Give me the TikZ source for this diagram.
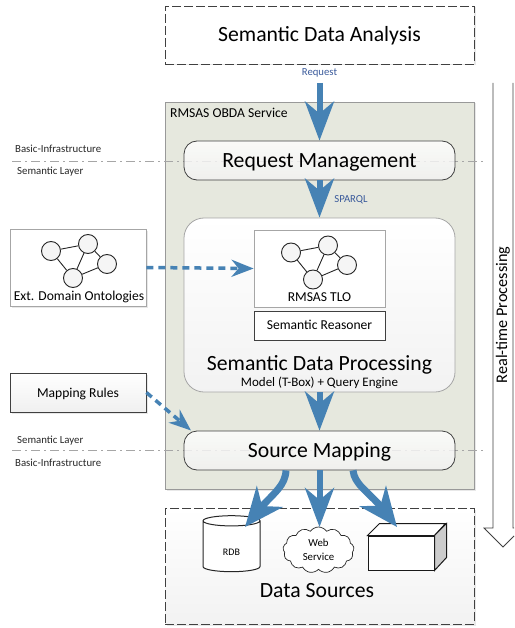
\documentclass[tikz,border=0pt]{standalone}
\usepackage{fontspec}
\setmainfont{Carlito}
\usetikzlibrary{arrows.meta,bending,shapes.symbols,shapes.geometric,shadows}
\definecolor{flowblue}{HTML}{4682B4}
\definecolor{labelblue}{HTML}{3A5A9B}
\definecolor{panelgreen}{HTML}{E6E8DE}
\tikzset{
  softshadow/.style={drop shadow={shadow xshift=1.5pt,shadow yshift=-1.5pt,opacity=.18}},
  dashbox/.style={draw=black!75,dash pattern=on 9pt off 3pt,line width=.8pt,fill=white,softshadow},
  softbox/.style={draw=black!75,line width=.8pt,rounded corners=13pt,top color=white,bottom color=black!5,fill opacity=.8,text opacity=1,minimum width=271pt,minimum height=39pt,text height=17pt,text depth=3pt,font=\fontsize{21.7}{23}\selectfont},
  plainbox/.style={draw=black!35,line width=.8pt,fill=white},
  sidebox/.style={draw=black!75,line width=.8pt,top color=white,bottom color=black!6,text height=12.6pt,text depth=3pt,font=\fontsize{13.6}{15}\selectfont,softshadow},
  ball/.style={circle,draw=black!85,fill=black!4,line width=.9pt,minimum size=19pt,inner sep=0pt},
  layerline/.style={black!35,line width=.6pt,dash pattern=on 9pt off 4pt on 2pt off 4pt},
  layertext/.style={anchor=base west,inner sep=0pt,font=\fontsize{10.8}{12}\selectfont,text=black!85},
  bluetext/.style={anchor=base,inner sep=0pt,text=labelblue,font=\fontsize{10.7}{12}\selectfont},
  plaintext/.style={anchor=base,inner sep=0pt,font=\fontsize{13.6}{15}\selectfont},
  flow/.style={draw=flowblue,line width=6pt,-{Stealth[length=39pt,width=29pt,inset=12pt,fill=flowblue]}},
  bentflow/.style={draw=flowblue,line width=7pt,-{Stealth[length=39pt,width=33pt,inset=12pt,fill=flowblue]}},
  dashflow/.style={draw=flowblue,line width=3.5pt,dash pattern=on 7pt off 5pt,-{Stealth[length=22pt,width=17pt,inset=7pt,fill=flowblue,sep=0pt]}},
}
\begin{document}
\begin{tikzpicture}[x=1pt,y=-1pt]
  \useasboundingbox (0,0) rectangle (514,628);
  % outer boxes
  \draw (319.5,35) node[dashbox,minimum width=309pt,minimum height=58pt,text height=17pt,text depth=3pt,font=\fontsize{21.7}{23}\selectfont] (sda) {Semantic Data Analysis};
  \draw (319.5,295.5) node[draw=black!40,line width=.8pt,fill=panelgreen,softshadow,minimum width=309pt,minimum height=387pt] (obda) {};
  \draw (319.5,566) node[dashbox,top color=white,bottom color=black!5,minimum width=309pt,minimum height=116pt] (src) {};
  \draw (170,117.5) node[anchor=base west,inner sep=0pt,font=\fontsize{13.6}{15}\selectfont] (obdatext) {RMSAS OBDA Service};
  % layer lines
  \coordinate (l1) at (12,161);
  \coordinate (l2) at (484,161);
  \coordinate (l3) at (12,450);
  \coordinate (l4) at (484,450);
  \draw[layerline] (l1) -- (l2);
  \draw[layerline] (l3) -- (l4);
  \draw (15,153) node[layertext] (basica) {Basic-Infrastructure};
  \draw (17,175) node[layertext] (semana) {Semantic Layer};
  \draw (17,443) node[layertext] (semanb) {Semantic Layer};
  \draw (15,466) node[layertext] (basicb) {Basic-Infrastructure};
  % service boxes
  \draw (319.5,160.5) node[softbox] (rm) {Request Management};
  \draw (319.5,305) node[softbox,draw=black!35,fill opacity=1,rounded corners=20pt,minimum height=174pt] (sdp) {};
  \draw (319.5,450.5) node[softbox] (sm) {Source Mapping};
  \draw (319.5,268.5) node[plainbox,minimum width=131pt,minimum height=77pt] (tlo) {};
  \draw (319.5,301) node[plaintext] (tlotext) {RMSAS TLO};
  \draw (319.5,325.5) node[draw=black!75,line width=.8pt,fill=white,minimum width=131pt,minimum height=29pt,text height=11pt,text depth=3pt,font=\fontsize{13.6}{15}\selectfont] (reasoner) {Semantic Reasoner};
  \draw (319.5,370) node[anchor=base,inner sep=0pt,font=\fontsize{21.7}{23}\selectfont] (sdptext) {Semantic Data Processing};
  \draw (319.5,386) node[anchor=base,inner sep=0pt,font=\fontsize{13}{15}\selectfont] (sdpsub) {Model (T-Box) + Query Engine};
  % left boxes
  \draw (78,267.5) node[plainbox,softshadow,minimum width=136pt,minimum height=77pt] (ext) {};
  \draw (79,300.5) node[plaintext] (exttext) {Ext. Domain Ontologies};
  \draw (78,392.5) node[sidebox,minimum width=136pt,minimum height=39pt] (rules) {Mapping Rules};
  % ontology graphs
  \draw (51,251) node[ball] (a) {};
  \draw (88,244) node[ball] (b) {};
  \draw (107,264) node[ball] (c) {};
  \draw (73,278) node[ball] (d) {};
  \draw[black!85,line width=.9pt] (a) -- (b) (b) -- (c) (b) -- (d) (a) -- (d) (c) -- (d);
  \draw (291,252.5) node[ball] (e) {};
  \draw (328,245.5) node[ball] (f) {};
  \draw (347,265) node[ball] (g) {};
  \draw (313,279.5) node[ball] (h) {};
  \draw[black!85,line width=.9pt] (e) -- (f) (f) -- (g) (f) -- (h) (e) -- (h) (g) -- (h);
  % data sources
  \draw (231.5,546.5) node[cylinder,shape border rotate=90,aspect=.6,draw=black!85,line width=1pt,fill=white,minimum width=57pt,minimum height=56pt,inner sep=0pt,text height=17pt,font=\fontsize{10}{12}\selectfont] (rdb) {RDB};
  \draw (318.5,550) node[cloud,cloud puffs=13,cloud puff arc=110,aspect=1.5,draw=black!85,line width=.7pt,fill=white,minimum width=71pt,minimum height=46pt,inner sep=0pt,align=center,font=\fontsize{10.8}{14}\selectfont] (web) {Web\\Service};
  \draw (401,553) node[draw=black!90,line width=1pt,fill=white,minimum width=66pt,minimum height=34pt,inner sep=0pt] (cube) {};
  \draw[black!90,line width=1pt,fill=white] (cube.north west) -- ++(12,-12) -- ++(66,0) -- (cube.north east) -- cycle;
  \draw[black!90,line width=1pt,fill=black!20] (cube.north east) -- ++(12,-12) -- ++(0,34) -- (cube.south east) -- cycle;
  \draw (317,597) node[anchor=base,inner sep=0pt,font=\fontsize{21.7}{23}\selectfont] (srctext) {Data Sources};
  % flows
  \draw (319.5,76) node[bluetext] (req) {Request};
  \draw (351,202.5) node[bluetext] (sparql) {SPARQL};
  \draw[flow] (req.south) ++(0,5) -- (rm.north);
  \draw[flow] (rm.south) -- (sdp.north);
  \draw[flow] (sdp.south) -- (sm.north);
  \coordinate (rdbtip) at (245,527);
  \coordinate (webtip) at (319.5,527);
  \coordinate (cubetip) at (397,527);
  \draw[bentflow] ([xshift=-33.5pt]sm.south) .. controls (285,490) and (268,495) .. (rdbtip);
  \draw[flow] (sm.south) -- (webtip);
  \draw[bentflow] ([xshift=33.5pt]sm.south) .. controls (355,488) and (374,493) .. (cubetip);
  \draw[dashflow] (ext.east) -- (tlo.west);
  \coordinate (smtip) at (191,430.5);
  \draw[dashflow] (rules.east) -- (smtip);
  % time arrow
  \draw[black!75,line width=.8pt,fill=white] (493,83) -- (493,528) -- (484,528) -- (503,547) -- (514,536) (514,528) -- (513,528) -- (513,83);
  \draw (503,315) node[rotate=90,inner sep=0pt,font=\fontsize{16.2}{18}\selectfont] (rtp) {Real-time Processing};
\end{tikzpicture}
\end{document}
